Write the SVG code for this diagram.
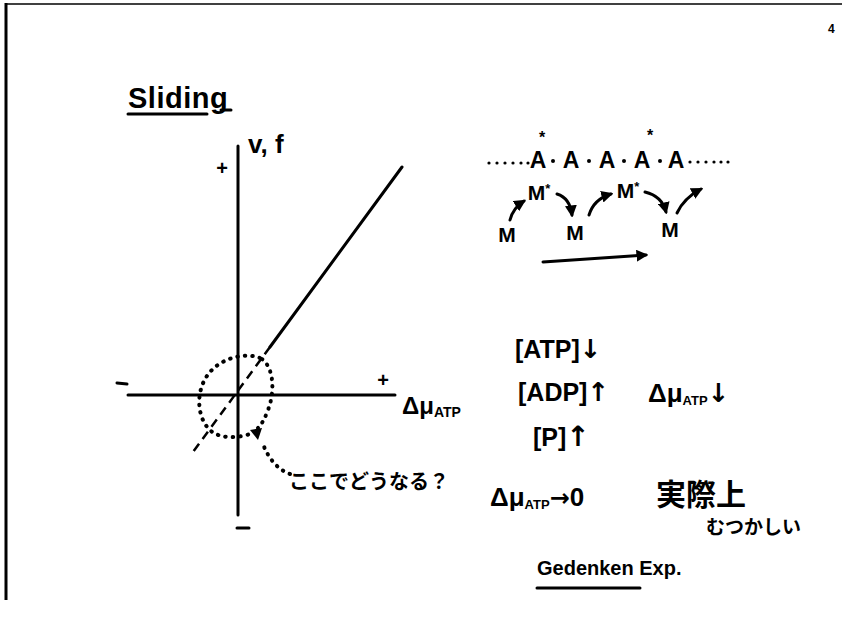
<svg xmlns="http://www.w3.org/2000/svg" width="842" height="617" viewBox="0 0 842 617">
<style>
.t{font-family:"Liberation Sans","DejaVu Sans",sans-serif;font-weight:bold;fill:#000}
.j{font-family:"Liberation Sans","Noto Sans CJK JP",sans-serif;font-weight:bold;fill:#000}
.ln{stroke:#000;stroke-width:3;fill:none;stroke-linecap:round}
.dot{stroke:#000;stroke-width:4;fill:none;stroke-linecap:round;stroke-dasharray:0.5 7}
.arr{stroke:#000;stroke-width:3;fill:none;stroke-linecap:round;marker-end:url(#ah)}
</style>
<defs>
<marker id="ah" viewBox="0 0 10 10" refX="8" refY="5" markerWidth="4" markerHeight="4" orient="auto" markerUnits="strokeWidth">
<path d="M0,0 L10,5 L0,10 z" fill="#000"/>
</marker>
</defs>
<rect width="842" height="617" fill="#fff"/>
<g id="border">
<line x1="6" y1="3" x2="6" y2="600" stroke="#000" stroke-width="3"/>
<line x1="6" y1="4" x2="842" y2="4" stroke="#000" stroke-width="1.5"/>
<text class="t" x="828" y="33" font-size="12" font-weight="normal">4</text>
</g>
<g id="title">
<text class="t" x="128" y="108" font-size="29" letter-spacing="0.5">Sliding</text>
<line class="ln" x1="128" y1="114" x2="207" y2="114"/>
<line class="ln" x1="221" y1="110" x2="231" y2="110"/>
</g>
<g id="graph">
<line class="ln" x1="238" y1="146" x2="238" y2="515"/>
<line class="ln" x1="128" y1="395" x2="395" y2="395"/>
<text class="t" x="248" y="153" font-size="26" font-weight="normal">v, f</text>
<text class="t" x="222" y="175" font-size="20" text-anchor="middle">+</text>
<text class="t" x="383" y="387" font-size="20" text-anchor="middle">+</text>
<line class="ln" x1="117" y1="383" x2="127" y2="384"/>
<line class="ln" x1="237" y1="528" x2="249" y2="528"/>
<text class="t" x="402" y="414" font-size="24">Δμ<tspan font-size="14" dy="3">ATP</tspan></text>
<line class="ln" x1="402" y1="167" x2="270" y2="347"/>
<line x1="270" y1="347" x2="193" y2="452" stroke="#000" stroke-width="2.5" stroke-dasharray="9 6"/>
<path class="dot" d="M 260 358 C 245 352 222 358 210 372 C 196 388 196 414 208 428 C 218 440 238 438 250 434"/>
<path class="dot" d="M 262 359 C 274 368 275 392 268 410 C 265 418 262 424 258 428"/>
<path d="M 250 430 L 262 428 L 258 440 z" fill="#000"/>
<path class="dot" d="M 290 474 C 278 470 268 458 263 444"/>
<text class="j" x="289" y="489" font-size="20">ここでどうなる？</text>
</g>
<g id="actin">
<g fill="#000">
<circle cx="489" cy="163" r="1.6"/><circle cx="497" cy="163" r="1.6"/><circle cx="505" cy="163" r="1.6"/><circle cx="513" cy="163" r="1.6"/><circle cx="521" cy="163" r="1.6"/><circle cx="528" cy="163" r="1.6"/>
<circle cx="553" cy="161" r="2"/><circle cx="589" cy="161" r="2"/><circle cx="624" cy="161" r="2"/><circle cx="660" cy="161" r="2"/>
<circle cx="690" cy="162" r="1.6"/><circle cx="698" cy="162" r="1.6"/><circle cx="706" cy="162" r="1.6"/><circle cx="714" cy="162" r="1.6"/><circle cx="721" cy="162" r="1.6"/><circle cx="728" cy="162" r="1.6"/>
</g>
<text class="t" x="538" y="168" font-size="23" text-anchor="middle">A</text>
<text class="t" x="571" y="168" font-size="23" text-anchor="middle">A</text>
<text class="t" x="607" y="168" font-size="23" text-anchor="middle">A</text>
<text class="t" x="642" y="168" font-size="23" text-anchor="middle">A</text>
<text class="t" x="676" y="168" font-size="23" text-anchor="middle">A</text>
<text class="t" x="542" y="143" font-size="16" text-anchor="middle">*</text>
<text class="t" x="650" y="141" font-size="16" text-anchor="middle">*</text>
</g>
<g id="myosin-1"><text class="t" x="507" y="242" font-size="21" text-anchor="middle">M</text></g>
<g id="myosin-star-1"><text class="t" x="539" y="200" font-size="21" text-anchor="middle">M<tspan font-size="13" dy="-7">*</tspan></text></g>
<g id="myosin-2"><text class="t" x="575" y="240" font-size="21" text-anchor="middle">M</text></g>
<g id="myosin-star-2"><text class="t" x="628" y="198" font-size="21" text-anchor="middle">M<tspan font-size="13" dy="-7">*</tspan></text></g>
<g id="myosin-3"><text class="t" x="670" y="237" font-size="21" text-anchor="middle">M</text></g>
<g id="connectors">
<path class="arr" d="M 510 220 Q 513 208 524 201"/>
<path class="arr" d="M 557 194 Q 570 198 572 215"/>
<path class="arr" d="M 589 215 Q 594 199 611 194"/>
<path class="arr" d="M 645 192 Q 662 196 666 212"/>
<path class="arr" d="M 677 213 Q 684 198 701 189"/>
<path class="arr" d="M 543 262 L 646 255"/>
</g>
<g id="notes">
<text class="t" x="515" y="358" font-size="25">[ATP]<tspan font-family="DejaVu Sans" font-size="26">↓</tspan></text>
<text class="t" x="518" y="401" font-size="25">[ADP]<tspan font-family="DejaVu Sans" font-size="26">↑</tspan></text>
<text class="t" x="648" y="402" font-size="26">Δμ<tspan font-size="13" dy="3">ATP</tspan><tspan font-family="DejaVu Sans" font-size="26" dy="-3">↓</tspan></text>
<text class="t" x="533" y="446" font-size="25">[P]<tspan font-family="DejaVu Sans" font-size="28">↑</tspan></text>
<text class="t" x="490" y="506" font-size="26">Δμ<tspan font-size="13" dy="3">ATP</tspan><tspan font-family="DejaVu Sans" font-size="24" dy="-3">→</tspan>0</text>
<text class="j" x="656" y="505" font-size="30">実際上</text>
<text class="j" x="706" y="534" font-size="19">むつかしい</text>
<text class="t" x="537" y="575" font-size="20">Gedenken Exp.</text>
<line class="ln" x1="537" y1="588" x2="640" y2="588"/>
</g>
</svg>
